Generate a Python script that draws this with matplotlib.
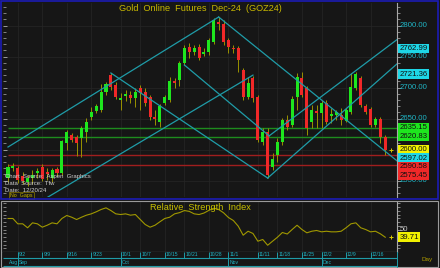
import numpy as np
import pandas as pd
import matplotlib
matplotlib.use("Agg")
import matplotlib.pyplot as plt
from matplotlib.ticker import MultipleLocator, NullLocator
from matplotlib.transforms import blended_transform_factory
from matplotlib.patches import Rectangle

plt.rcParams['font.family'] = ['Liberation Sans', 'DejaVu Sans']

# sessions shown on the chart (gaps dropped)
dates = pd.bdate_range("2024-08-29", "2024-12-19")
dates = dates.drop(pd.to_datetime(["2024-10-14", "2024-11-11", "2024-11-28"]))

opens = [2554.0, 2570.2, 2570.2, 2557.2, 2547.6, 2554.0, 2562.1, 2571.8, 2563.7, 2554.0,
         2568.6, 2562.1, 2610.5, 2623.4, 2620.2, 2618.5, 2628.2, 2652.4, 2662.1, 2663.7,
         2692.7, 2720.2, 2704.0, 2679.8, 2686.3, 2687.9, 2683.1, 2699.2, 2692.7, 2684.7,
         2652.4, 2644.4, 2675.0, 2679.8, 2710.5, 2712.1, 2739.5, 2765.3, 2757.3, 2765.3,
         2754.0, 2757.3, 2773.4, 2805.7, 2802.4, 2776.6, 2763.7, 2763.7, 2728.2, 2684.7,
         2715.3, 2684.7, 2612.1, 2628.2, 2571.8, 2591.1, 2612.1, 2647.6, 2639.5, 2684.7,
         2715.3, 2699.2, 2644.4, 2662.1, 2658.9, 2675.0, 2654.0, 2655.7, 2655.7, 2646.0,
         2660.5, 2699.2, 2715.3, 2670.2, 2665.3, 2639.5, 2649.2, 2620.2]
highs = [2576.6, 2578.2, 2573.4, 2563.7, 2558.9, 2566.9, 2570.2, 2576.6, 2570.2, 2570.2,
         2571.8, 2615.3, 2631.5, 2626.6, 2623.4, 2637.9, 2650.8, 2668.6, 2673.4, 2705.6,
         2708.9, 2723.4, 2708.9, 2691.1, 2696.0, 2694.4, 2699.2, 2704.0, 2699.2, 2687.9,
         2663.7, 2673.4, 2687.9, 2716.9, 2715.3, 2742.8, 2768.6, 2771.8, 2768.6, 2770.2,
         2763.7, 2779.8, 2812.1, 2813.7, 2808.9, 2779.8, 2768.6, 2766.9, 2731.5, 2716.9,
         2718.6, 2687.9, 2634.7, 2634.7, 2594.4, 2618.5, 2650.8, 2655.7, 2686.3, 2723.4,
         2725.0, 2702.4, 2671.8, 2671.8, 2679.8, 2679.8, 2666.9, 2663.7, 2666.9, 2666.9,
         2723.4, 2725.0, 2718.6, 2673.4, 2668.6, 2652.4, 2652.4, 2623.4]
lows = [2547.6, 2565.3, 2546.0, 2544.4, 2541.1, 2544.4, 2554.0, 2549.2, 2550.8, 2547.6,
        2557.2, 2558.9, 2599.2, 2612.1, 2589.5, 2587.9, 2612.1, 2647.6, 2658.9, 2660.5,
        2687.9, 2696.0, 2681.5, 2663.7, 2678.2, 2675.0, 2668.6, 2663.7, 2670.2, 2647.6,
        2639.5, 2636.3, 2671.8, 2676.6, 2699.2, 2702.4, 2736.3, 2747.6, 2752.4, 2744.4,
        2750.8, 2752.4, 2770.2, 2792.7, 2768.6, 2755.6, 2755.6, 2725.0, 2679.8, 2681.5,
        2676.6, 2612.1, 2607.3, 2554.0, 2566.9, 2579.8, 2607.3, 2631.5, 2636.3, 2663.7,
        2684.7, 2623.4, 2634.7, 2634.7, 2634.7, 2641.1, 2642.7, 2647.6, 2639.5, 2644.4,
        2657.3, 2696.0, 2668.6, 2657.3, 2636.3, 2636.3, 2610.5, 2591.1]
closes = [2571.8, 2573.4, 2550.8, 2549.2, 2554.0, 2558.9, 2565.3, 2552.4, 2560.5, 2566.9,
          2562.1, 2613.7, 2628.2, 2615.3, 2610.5, 2634.7, 2644.4, 2660.5, 2670.2, 2692.7,
          2705.6, 2700.8, 2684.7, 2683.1, 2689.5, 2683.1, 2692.7, 2691.1, 2675.0, 2652.4,
          2649.2, 2670.2, 2684.7, 2710.5, 2707.3, 2739.5, 2763.7, 2757.3, 2763.7, 2747.6,
          2757.3, 2776.6, 2808.9, 2802.4, 2773.4, 2765.3, 2762.1, 2744.4, 2684.7, 2707.3,
          2683.1, 2615.3, 2628.2, 2558.9, 2584.7, 2612.1, 2647.6, 2636.3, 2681.5, 2716.9,
          2687.9, 2634.7, 2663.7, 2658.9, 2675.0, 2644.4, 2657.3, 2660.5, 2647.6, 2663.7,
          2700.8, 2721.8, 2671.8, 2660.5, 2639.5, 2649.2, 2620.2, 2600.0]

rsi = [64.7, 64.7, 57.6, 57.6, 52.3, 58.9, 57.6, 53.1, 55.7, 58.9,
       57.6, 64.7, 68.7, 66.4, 63.3, 66.4, 69.1, 70.9, 73.6, 76.7,
       78.9, 75.3, 70.9, 70.0, 70.9, 69.1, 70.0, 63.3, 56.7, 53.1,
       55.7, 60.3, 64.7, 66.4, 70.9, 72.5, 75.3, 74.2, 70.9, 70.0,
       72.0, 75.5, 78.5, 76.7, 72.3, 66.0, 62.0, 54.4, 42.4, 47.7,
       44.7, 34.4, 36.7, 29.0, 34.4, 39.7, 46.0, 44.0, 50.0, 55.7,
       50.0, 45.6, 47.7, 48.7, 46.9, 47.7, 46.9, 46.9, 47.7, 52.3,
       57.6, 58.9, 52.3, 50.0, 46.9, 47.7, 44.3, 39.71]

# trend lines: (bar, price) start, (bar, price) end, extend to right edge?
trend_lines = [
    ((0, 2604.0), (43, 2813.7), False),
    ((43, 2813.7), (77, 2597.02), True),
    ((0, 2485.0), (50, 2720.0), False),
    ((21, 2723.4), (53, 2554.0), False),
    ((53, 2554.0), (77, 2721.36), True),
    ((36, 2736.3), (53.3, 2622.0), False),
    ((53.3, 2622.0), (77, 2762.99), True),
]
green_levels = [2635.15, 2620.83]
red_levels = [2590.58, 2575.45]
axis_prices = [2800, 2750, 2700, 2650, 2600, 2550]
tick_labels = ["9/2", "9/9", "9/16", "9/23", "10/1", "10/7", "10/15", "10/21", "10/28",
               "11/1", "11/11", "11/18", "11/25", "12/2", "12/9", "12/16"]
month_names = ["Aug", "Sep", "Oct", "Nov", "Dec"]

BG = '#161616'
TEAL = '#1f9ca8'
LBL = '#1fb4c4'
W, H = 440, 268

fig = plt.figure(figsize=(W / 100, H / 100), dpi=100, facecolor=BG)


def fbox(x0, y0, x1, y1):
    # pixel box (top-left origin) -> figure fraction rect
    return [x0 / W, (H - y1) / H, (x1 - x0) / W, (y1 - y0) / H]


ax = fig.add_axes(fbox(3, 3, 397, 197), facecolor=BG)
ax_r = fig.add_axes(fbox(3, 202, 397, 251.7), facecolor=BG)
ax_d = fig.add_axes(fbox(3, 251.7, 397, 267), facecolor=BG)

n = len(closes)
x = np.arange(n)
xlim = (-1.02, 79.4)
for a in (ax, ax_r, ax_d):
    a.set_xlim(*xlim)
    for s in a.spines.values():
        s.set_visible(False)
ax.set_ylim(2523.4, 2836.3)
ax_r.set_ylim(20.4, 86.7)
ax_d.set_ylim(0, 1)

# positions of the date ticks and month starts
tick_pos = [int(np.searchsorted(dates, pd.Timestamp("2024/" + t))) for t in tick_labels]
month_pos = [0] + [int(np.searchsorted(dates, pd.Timestamp(f"2024-{m:02d}-01"))) for m in (9, 10, 11, 12)]

# faint grid
for t in tick_pos:
    ax.axvline(t, color='#262626', lw=0.5, zorder=0)
    ax_r.axvline(t, color='#262626', lw=0.5, zorder=0)
for p in axis_prices:
    ax.axhline(p, color='#262626', lw=0.5, zorder=0)

# candles
o = np.array(opens); c = np.array(closes)
up = c >= o
ax.vlines(x, lows, highs, color='#9a9200', lw=0.7, zorder=2)
body_lo = np.minimum(o, c)
body_h = np.maximum(np.abs(c - o), 1.2)
ax.bar(x, body_h, bottom=body_lo, width=0.62,
       color=np.where(up, '#1ee61e', '#f02828'), zorder=3, linewidth=0)

# horizontal levels
for lv in green_levels:
    ax.hlines(lv, 0, xlim[1], color='#1e8c1e', lw=1.0, zorder=1)
for lv in red_levels:
    ax.hlines(lv, 0, xlim[1], color='#a01e1e', lw=1.0, zorder=1)

# trend lines
for (x0, y0), (x1, y1), ext in trend_lines:
    if ext:
        slope = (y1 - y0) / (x1 - x0)
        x1, y1 = xlim[1], y1 + slope * (xlim[1] - x1)
    ax.plot([x0, x1], [y0, y1], color=TEAL, lw=0.9, zorder=4)

ax.plot(n + 0.2, closes[-1], marker='+', color='#d8c800', ms=3, mew=0.7, zorder=5)

# price axis ticks
ax.yaxis.tick_right()
ax.yaxis.set_major_locator(MultipleLocator(50))
ax.yaxis.set_minor_locator(MultipleLocator(10))
ax.tick_params(axis='y', which='both', direction='out', colors='#b0b0b0', labelright=False)
ax.tick_params(axis='y', which='major', length=3, width=0.6)
ax.tick_params(axis='y', which='minor', length=1.8, width=0.5)
ax.xaxis.set_major_locator(NullLocator())
ax.spines['right'].set_visible(True)
ax.spines['right'].set_color('#a8a8a8')
ax.spines['right'].set_linewidth(0.8)
sec = ax.secondary_yaxis('left')
sec.yaxis.set_major_locator(MultipleLocator(50))
sec.yaxis.set_minor_locator(MultipleLocator(10))
sec.tick_params(which='both', direction='in', colors='#b0b0b0', labelleft=False)
sec.tick_params(which='major', length=3, width=0.6)
sec.tick_params(which='minor', length=1.8, width=0.5)
sec.spines['left'].set_visible(False)

tr = blended_transform_factory(ax.transAxes, ax.transData)
for p in axis_prices:
    ax.text(1.006, p, f"{p:.2f}", transform=tr, color=LBL, fontsize=5.6,
            va='center', ha='left', zorder=5, clip_on=False)

# tagged values on the price scale, pushed apart so boxes do not overlap
tags = [(trend_lines[6][1][1], '#1ed6e6'), (trend_lines[4][1][1], '#1ed6e6'),
        (green_levels[0], '#1ee61e'), (green_levels[1], '#1ee61e'),
        (closes[-1], '#f0f000'), (trend_lines[1][1][1], '#1ed6e6'),
        (red_levels[0], '#f02828'), (red_levels[1], '#f02828')]
gap = 14.0
last = None
for val, col in sorted(tags, key=lambda t: -t[0]):
    pos = val if last is None else min(val, last - gap)
    last = pos
    ax.text(1.006, pos, f"{val:.2f}", transform=tr, color='#101010', fontsize=5.6,
            va='center', ha='left', zorder=6, clip_on=False,
            bbox=dict(boxstyle='square,pad=0.18', fc=col, ec='none'))

ax.text(0.5, 0.974, "Gold  Online  Futures  Dec-24  (GOZ24)", transform=ax.transAxes,
        color='#c8b800', fontsize=6.6, ha='center', va='center')
info = ["Chart  Source:  Aspen  Graphics", "Data  Source:  Tfw", "Date:  12/20/24"]
for k, s in enumerate(info):
    ax.text(0.006, 0.105 - k * 0.037, s, transform=ax.transAxes, color='#d0d0d0',
            fontsize=4.3, ha='left', va='center', zorder=6)
ax.text(0.018, 0.008, "No  Gaps", transform=ax.transAxes, color='#c8b400', fontsize=3.8,
        ha='left', va='center', zorder=6,
        bbox=dict(boxstyle='square,pad=0.2', fc=BG, ec='#8a7a00', lw=0.5))

# RSI panel
ax_r.plot(x, rsi, color='#a09800', lw=0.8)
ax_r.plot(n + 0.2, rsi[-1], marker='+', color='#d8c800', ms=3, mew=0.7)
ax_r.yaxis.tick_right()
ax_r.yaxis.set_major_locator(MultipleLocator(50))
ax_r.yaxis.set_minor_locator(MultipleLocator(5))
ax_r.tick_params(axis='y', which='both', direction='out', colors='#b0b0b0', labelright=False)
ax_r.tick_params(axis='y', which='major', length=3, width=0.6)
ax_r.tick_params(axis='y', which='minor', length=1.8, width=0.5)
ax_r.xaxis.set_major_locator(NullLocator())
ax_r.spines['right'].set_visible(True)
ax_r.spines['right'].set_color('#a8a8a8')
ax_r.spines['right'].set_linewidth(0.8)
ax_r.spines['bottom'].set_visible(True)
ax_r.spines['bottom'].set_color('#c0c0c0')
ax_r.spines['bottom'].set_linewidth(0.8)
sec_r = ax_r.secondary_yaxis('left')
sec_r.yaxis.set_major_locator(MultipleLocator(50))
sec_r.yaxis.set_minor_locator(MultipleLocator(5))
sec_r.tick_params(which='both', direction='in', colors='#b0b0b0', labelleft=False, length=1.8, width=0.5)
sec_r.spines['left'].set_visible(False)
tr_r = blended_transform_factory(ax_r.transAxes, ax_r.transData)
ax_r.text(1.006, 50, "50", transform=tr_r, color='#c8c8c8', fontsize=5.6, va='center', ha='left')
ax_r.text(1.006, rsi[-1], f"{rsi[-1]:.2f}", transform=tr_r, color='#101010', fontsize=5.6,
          va='center', ha='left', bbox=dict(boxstyle='square,pad=0.18', fc='#f0f000', ec='none'))
ax_r.text(0.5, 0.88, "Relative  Strength  Index", transform=ax_r.transAxes, color='#c8c000',
          fontsize=6.6, ha='center', va='center')

# date axis
ax_d.xaxis.set_major_locator(NullLocator())
ax_d.yaxis.set_major_locator(NullLocator())
ax_d.hlines([0.58, 0.07], xlim[0], xlim[1], color=TEAL, lw=0.8)
ax_d.vlines(tick_pos, 0.58, 1, color=TEAL, lw=0.7)
ax_d.vlines(month_pos[1:], 0.07, 1, color=TEAL, lw=0.7)
for t, s in zip(tick_pos, tick_labels):
    ax_d.text(t + 0.2, 0.8, s, color=LBL, fontsize=3.6, ha='left', va='center')
for m, s in zip(month_pos, month_names):
    ax_d.text(m + 0.25, 0.3, s, color=LBL, fontsize=3.6, ha='left', va='center')
fig.text(427 / W, 1 - 260 / H, "Day", color='#b09c00', fontsize=4.6, ha='center', va='center')
fig.add_artist(plt.Line2D([397 / W, 397 / W], [1 - 267 / H, 1 - 251.7 / H], color=TEAL, lw=0.7))

# panel frames
fig.add_artist(Rectangle((1 / W, 1 - 199 / H), 437 / W, 198 / H, transform=fig.transFigure,
                         fill=False, ec='#1c1cb4', lw=1.2))
fig.add_artist(Rectangle((1 / W, 1 - 267 / H), 437 / W, 66 / H, transform=fig.transFigure,
                         fill=False, ec='#9a9a9a', lw=0.8))

fig.savefig("out.png", dpi=100, facecolor=BG)
